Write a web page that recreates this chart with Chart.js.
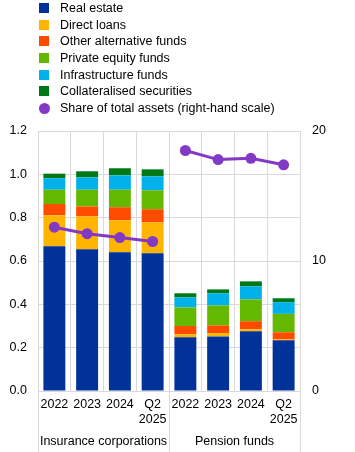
<!DOCTYPE html>
<html>
<head>
<meta charset="utf-8">
<script src="https://cdn.jsdelivr.net/npm/chart.js@4/dist/chart.umd.min.js"></script>
<style>
  html, body { margin: 0; padding: 0; background: #fff; }
  #wrap { position: relative; width: 355px; height: 452px; }
  #legend { position: absolute; left: 0; top: 0; font-family: "Liberation Sans", Arial, sans-serif; font-size: 12.5px; color: #000; }
  .item { position: absolute; left: 38px; height: 17px; white-space: nowrap; }
  .sw { position: absolute; left: 1px; width: 10px; height: 10px; top: 3px; }
  .dot { position: absolute; left: 1px; width: 11px; height: 11px; border-radius: 50%; top: 2.5px; }
  .lab { position: absolute; left: 22px; top: 0; line-height: 17px; }
  canvas { position: absolute; left: 0; top: 0; }
</style>
</head>
<body>
<div id="wrap">
  <canvas id="c" width="355" height="452"></canvas>
  <div id="legend"></div>
</div>
<script>
const categories = ['2022', '2023', '2024', ['Q2', '2025'], '2022', '2023', '2024', ['Q2', '2025']];
const groups = ['Insurance corporations', 'Pension funds'];
const seriesNames = ['Real estate', 'Direct loans', 'Other alternative funds', 'Private equity funds', 'Infrastructure funds', 'Collateralised securities'];
const lineName = 'Share of total assets (right-hand scale)';

const realEstate     = [0.668, 0.654, 0.640, 0.636, 0.248, 0.252, 0.276, 0.234];
const directLoans    = [0.143, 0.152, 0.148, 0.142, 0.014, 0.015, 0.009, 0.005];
const otherAlt       = [0.052, 0.046, 0.060, 0.061, 0.038, 0.036, 0.037, 0.032];
const privateEquity  = [0.066, 0.077, 0.081, 0.087, 0.086, 0.092, 0.101, 0.085];
const infrastructure = [0.053, 0.057, 0.066, 0.065, 0.046, 0.056, 0.060, 0.054];
const collateralised = [0.021, 0.028, 0.033, 0.032, 0.019, 0.018, 0.023, 0.018];
const shareOfAssets  = [12.6, 12.1, 11.8, 11.5, 18.5, 17.8, 17.9, 17.4];

const leftTicks = [0, 0.2, 0.4, 0.6, 0.8, 1.0, 1.2];
const rightTicks = [0, 10, 20];

const colors = ['#003299', '#ffb400', '#ff4b00', '#65b800', '#00b1ea', '#007816'];
const lineColor = '#8139c6';
const gridColor = '#d9d9d9';
const FONT = { family: '"Liberation Sans", Arial, sans-serif', size: 12.5 };

const barSeries = [realEstate, directLoans, otherAlt, privateEquity, infrastructure, collateralised];

// HTML legend built from the series names
const legend = document.getElementById('legend');
seriesNames.concat([lineName]).forEach((name, i) => {
  const d = document.createElement('div');
  d.className = 'item';
  d.style.top = (i * 16.67) + 'px';
  const s = document.createElement('span');
  if (i < seriesNames.length) { s.className = 'sw'; s.style.background = colors[i]; }
  else { s.className = 'dot'; s.style.background = lineColor; }
  const t = document.createElement('span');
  t.className = 'lab';
  t.textContent = name;
  d.appendChild(s); d.appendChild(t);
  legend.appendChild(d);
});

const groupPlugin = {
  id: 'groups',
  afterDraw(chart) {
    const ctx = chart.ctx, x = chart.scales.x, a = chart.chartArea;
    const left = a.left, right = a.right;
    const mid = (x.getPixelForValue(3) + x.getPixelForValue(4)) / 2;
    ctx.save();
    ctx.strokeStyle = gridColor;
    ctx.lineWidth = 1;
    [left, mid, right].forEach(px => {
      const p = Math.round(px) + 0.5;
      ctx.beginPath(); ctx.moveTo(p, a.bottom); ctx.lineTo(p, chart.height); ctx.stroke();
    });
    ctx.fillStyle = '#000';
    ctx.font = FONT.size + 'px ' + FONT.family;
    ctx.textAlign = 'center';
    ctx.textBaseline = 'middle';
    ctx.fillText(groups[0], (left + mid) / 2, 442);
    ctx.fillText(groups[1], (mid + right) / 2, 442);
    ctx.restore();
  }
};

const datasets = barSeries.map((data, i) => ({
  type: 'bar',
  label: seriesNames[i],
  data: data,
  backgroundColor: colors[i],
  yAxisID: 'y',
  stack: 's',
  order: 1,
  barPercentage: 0.67,
  categoryPercentage: 1.0
}));
datasets.push({
  type: 'line',
  label: lineName,
  data: shareOfAssets,
  yAxisID: 'y2',
  borderColor: lineColor,
  backgroundColor: lineColor,
  borderWidth: 3,
  pointRadius: 5.5,
  pointHoverRadius: 5.5,
  pointBorderWidth: 0,
  order: 0,
  segment: { borderColor: c => c.p0DataIndex === 3 ? 'rgba(0,0,0,0)' : lineColor }
});

new Chart(document.getElementById('c'), {
  data: { labels: categories, datasets: datasets },
  options: {
    responsive: false,
    animation: false,
    devicePixelRatio: 1,
    layout: { padding: { top: 131, left: 0, right: 0, bottom: 0 } },
    plugins: { legend: { display: false }, tooltip: { enabled: false } },
    scales: {
      x: {
        stacked: true,
        offset: true,
        grid: { color: gridColor, offset: true, drawTicks: false },
        border: { color: gridColor },
        ticks: { color: '#000', font: FONT, padding: 6.5, maxRotation: 0, autoSkip: false },
        afterFit: s => { s.height = 61; }
      },
      y: {
        position: 'left',
        stacked: true,
        min: 0, max: 1.2,
        afterBuildTicks: s => { s.ticks = leftTicks.map(v => ({ value: v })); },
        grid: { color: gridColor, drawTicks: false },
        border: { display: false },
        ticks: { color: '#000', font: FONT, padding: 11, callback: v => Number(v).toFixed(1) },
        afterFit: s => { s.width = 38; }
      },
      y2: {
        position: 'right',
        min: 0, max: 20,
        afterBuildTicks: s => { s.ticks = rightTicks.map(v => ({ value: v })); },
        grid: { drawOnChartArea: false, drawTicks: false },
        border: { display: false },
        ticks: { color: '#000', font: FONT, padding: 12 },
        afterFit: s => { s.width = 55; }
      }
    }
  },
  plugins: [groupPlugin]
});
</script>
</body>
</html>
